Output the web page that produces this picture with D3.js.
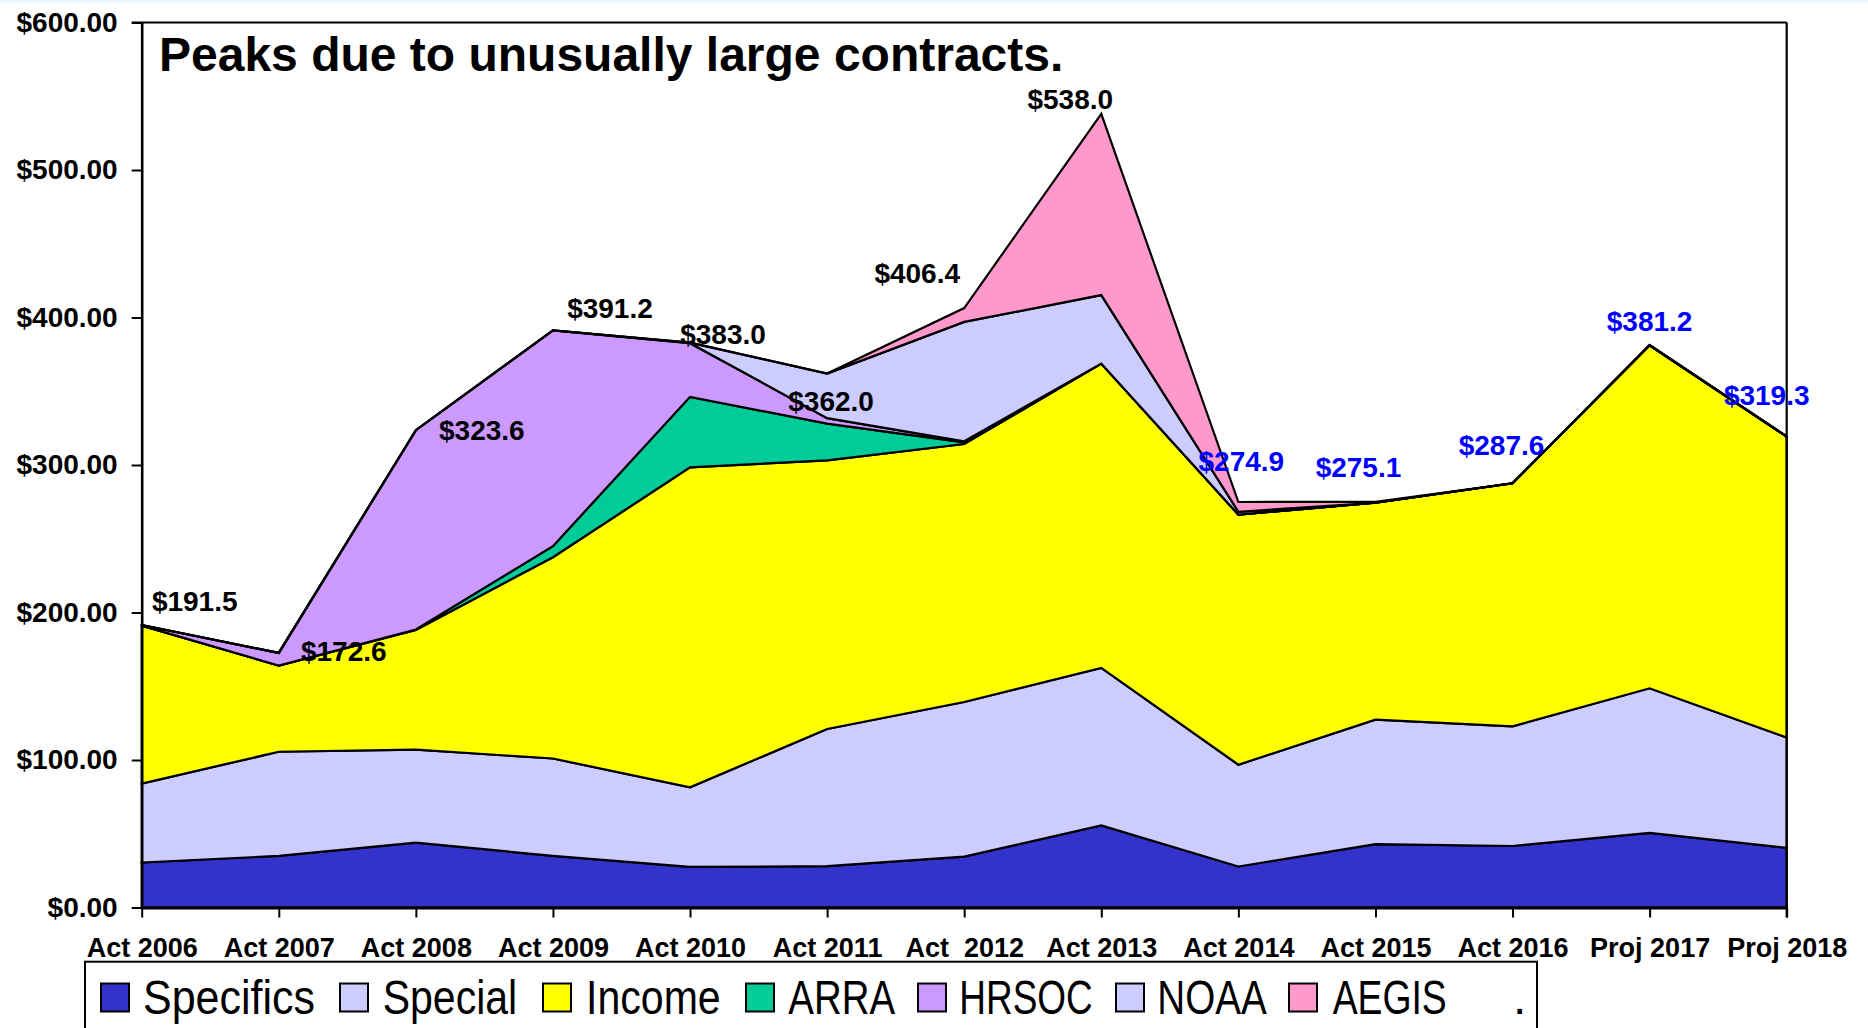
<!DOCTYPE html>
<html>
<head>
<meta charset="utf-8">
<script src="https://cdn.jsdelivr.net/npm/d3@7"></script>
<style>
  html, body { margin: 0; padding: 0; background: #ffffff; }
  svg { display: block; }
  text { font-family: "Liberation Sans", Arial, sans-serif; white-space: pre; }
</style>
</head>
<body>
<svg id="chart" width="1868" height="1028"></svg>
<script>
// ---------- DATA ----------
const categories = ["Act 2006","Act 2007","Act 2008","Act 2009","Act 2010","Act 2011","Act  2012","Act 2013","Act 2014","Act 2015","Act 2016","Proj 2017","Proj 2018"];
const seriesNames = ["Specifics","Special","Income","ARRA","HRSOC","NOAA","AEGIS"];
const specifics = [30.5, 35.0, 44.0, 35.0, 27.5, 28.0, 34.5, 55.6, 27.8, 43.0, 41.7, 50.6, 40.5];
const special   = [53.5, 70.6, 63.0, 66.0, 54.0, 93.0, 104.8, 106.8, 69.0, 84.3, 81.1, 98.0, 74.7];
const income    = [107.1, 58.4, 81.2, 136.5, 216.9, 182.2, 174.9, 206.4, 169.6, 147.1, 164.8, 232.6, 204.1];
const arra      = [0, 0, 0.3, 7.5, 47.8, 24.8, 1.2, 0, 0, 0, 0, 0, 0];
const hrsoc     = [0.4, 8.6, 135.1, 146.2, 36.4, 3.8, 0.7, 0, 0, 0, 0, 0, 0];
const noaa      = [0, 0, 0, 0, 0.4, 30.2, 80.9, 46.4, 1.9, 0, 0, 0, 0];
const aegis     = [0, 0, 0, 0, 0, 0, 9.4, 122.8, 6.6, 0.7, 0, 0, 0];
const totalLabels = ["$191.5","$172.6","$323.6","$391.2","$383.0","$362.0","$406.4","$538.0","$274.9","$275.1","$287.6","$381.2","$319.3"];
const yTickValues = [0, 100, 200, 300, 400, 500, 600];
const titleText = "Peaks due to unusually large contracts.";

// ---------- LAYOUT / STYLE ----------
const colors = ["#3333CC","#CCCCFF","#FFFF00","#00CC99","#CC99FF","#CCCCFF","#FF99CC"];
const labelColors = ["#000","#000","#000","#000","#000","#000","#000","#000","#0000FF","#0000FF","#0000FF","#0000FF","#0000FF"];
const labelOffsets = [[53,-14],[65,8.5],[66,10],[57,-12],[33,1],[4,37],[-47,-25],[-31,-5],[3,-31],[-17,-25],[-11,-28],[0,-14.5],[-20,-32]];
const legendSwatchX = [101, 340, 543, 746, 918, 1116, 1289];
const legendTextX = [143, 382.7, 586, 788.3, 959.3, 1157.3, 1332.7];
const legendTextW = [172, 134.5, 134.7, 106.7, 133.4, 109.4, 114];
const plotL = 141.7, plotR = 1786.7, plotT = 22.5, plotB = 907.5;

const svg = d3.select("#chart");
svg.append("rect").attr("x",0).attr("y",0).attr("width",1868).attr("height",3).attr("fill","#e9f8fc");

const table = categories.map((c, i) => ({
  cat: c, Specifics: specifics[i], Special: special[i], Income: income[i],
  ARRA: arra[i], HRSOC: hrsoc[i], NOAA: noaa[i], AEGIS: aegis[i]
}));

const x = d3.scalePoint().domain(categories).range([plotL, plotR]).padding(0);
const y = d3.scaleLinear().domain([0, 600]).range([plotB, plotT]);

const stacked = d3.stack().keys(seriesNames)(table);

const area = d3.area()
  .x(d => x(d.data.cat))
  .y0(d => y(d[0]))
  .y1(d => y(d[1]));

svg.append("g").selectAll("path")
  .data(stacked)
  .join("path")
  .attr("d", area)
  .attr("fill", (d, i) => colors[i])
  .attr("stroke", "#000")
  .attr("stroke-width", 2.2)
  .attr("stroke-linejoin", "miter");

// Frame: top and right
svg.append("line").attr("x1", plotL - 10).attr("x2", plotR).attr("y1", plotT).attr("y2", plotT)
  .attr("stroke", "#000").attr("stroke-width", 2.2);
svg.append("line").attr("x1", plotR).attr("x2", plotR).attr("y1", plotT).attr("y2", plotB + 10)
  .attr("stroke", "#000").attr("stroke-width", 2.2);

// Y axis
const yAxis = d3.axisLeft(y).tickValues(yTickValues)
  .tickFormat(d => "$" + d.toFixed(2)).tickSize(10).tickSizeOuter(0).tickPadding(14);
const gy = svg.append("g").attr("transform", `translate(${plotL},0)`).call(yAxis);
gy.select(".domain").attr("stroke", "#000").attr("stroke-width", 2.6);
gy.selectAll(".tick line").attr("stroke", "#000").attr("stroke-width", 2);
gy.selectAll(".tick text").attr("font-family", "Liberation Sans, Arial, sans-serif")
  .attr("font-size", 28).attr("font-weight", "bold").attr("fill", "#000");

// X axis
const xAxis = d3.axisBottom(x).tickSize(10).tickSizeOuter(0).tickPadding(20);
const gx = svg.append("g").attr("transform", `translate(0,${plotB})`).call(xAxis);
gx.select(".domain").attr("stroke", "#000").attr("stroke-width", 3);
gx.selectAll(".tick line").attr("stroke", "#000").attr("stroke-width", 2);
gx.selectAll(".tick text").attr("font-family", "Liberation Sans, Arial, sans-serif")
  .attr("font-size", 27).attr("font-weight", "bold").attr("fill", "#000")
  .style("white-space", "pre");

// Title
svg.append("text").attr("x", 159).attr("y", 71)
  .attr("font-size", 48).attr("font-weight", "bold").attr("fill", "#000")
  .text(titleText);

// Total labels
const totals = stacked[stacked.length - 1].map(d => d[1]);
svg.append("g").selectAll("text")
  .data(totalLabels)
  .join("text")
  .attr("x", (d, i) => x(categories[i]) + labelOffsets[i][0])
  .attr("y", (d, i) => y(totals[i]) + labelOffsets[i][1])
  .attr("text-anchor", "middle")
  .attr("font-size", 28).attr("font-weight", "bold")
  .attr("fill", (d, i) => labelColors[i])
  .text(d => d);

// Legend
const legend = svg.append("g");
legend.append("rect").attr("x", 85).attr("y", 961.7).attr("width", 1452).attr("height", 100)
  .attr("fill", "#fff").attr("stroke", "#000").attr("stroke-width", 2);
const legendItems = legend.selectAll("g.item").data(seriesNames).join("g").attr("class", "item");
legendItems.append("rect")
  .attr("x", (d, i) => legendSwatchX[i]).attr("y", 983.5)
  .attr("width", 28).attr("height", 28)
  .attr("fill", (d, i) => colors[i]).attr("stroke", "#000").attr("stroke-width", 2);
legendItems.append("text")
  .attr("x", (d, i) => legendTextX[i]).attr("y", 1014)
  .attr("textLength", (d, i) => legendTextW[i]).attr("lengthAdjust", "spacingAndGlyphs")
  .attr("font-size", 48).attr("fill", "#000")
  .text(d => d);
legend.append("text").attr("x", 1513).attr("y", 1014).attr("font-size", 48).attr("fill", "#000").text(".");
</script>
</body>
</html>
